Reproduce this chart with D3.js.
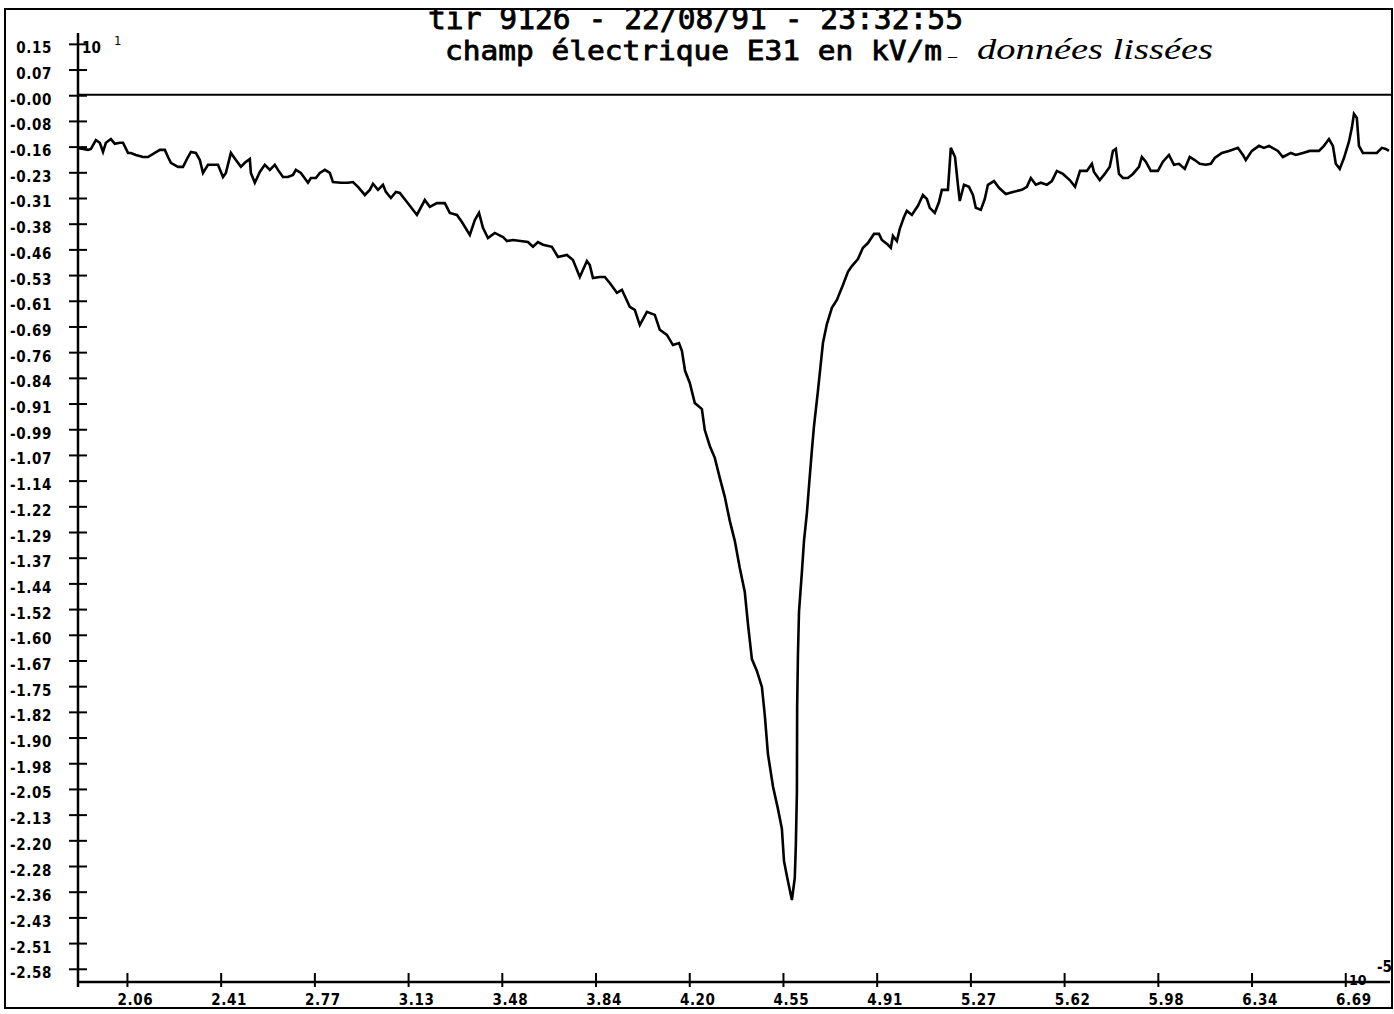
<!DOCTYPE html>
<html><head><meta charset="utf-8">
<script src="https://cdn.jsdelivr.net/npm/d3@7"></script>
<style>body{margin:0;background:#fff}svg{display:block}</style>
</head><body><svg id="chart" width="1394" height="1014"></svg>
<script>
const titleLine1 = "tir 9126 - 22/08/91 - 23:32:55";
const titleLine2 = "champ électrique E31 en kV/m";
const titleNoteDash = "_";
const titleNote = "données lissées";
const yExponent = ["10", "1"];
const xExponent = ["10", "-5"];

const yTickLabels = ["0.15","0.07","-0.00","-0.08","-0.16","-0.23","-0.31","-0.38","-0.46","-0.53",
  "-0.61","-0.69","-0.76","-0.84","-0.91","-0.99","-1.07","-1.14","-1.22","-1.29","-1.37","-1.44",
  "-1.52","-1.60","-1.67","-1.75","-1.82","-1.90","-1.98","-2.05","-2.13","-2.20","-2.28","-2.36",
  "-2.43","-2.51","-2.58"];
const xTickLabels = ["2.06","2.41","2.77","3.13","3.48","3.84","4.20","4.55","4.91","5.27","5.62","5.98","6.34","6.69"];

// time (x 1e-5 s), field (x 10 kV/m)
const traceEarly = [
 [1.874,-0.157],[1.912,-0.163],[1.923,-0.160],[1.942,-0.134],[1.957,-0.142],[1.969,-0.169],[1.980,-0.142],
 [1.999,-0.131],[2.014,-0.145],[2.033,-0.142],[2.045,-0.142],[2.064,-0.172],[2.075,-0.172],[2.094,-0.178],
 [2.121,-0.184],[2.140,-0.184],[2.166,-0.172],[2.185,-0.163],[2.204,-0.163],[2.216,-0.184],[2.227,-0.201],
 [2.254,-0.213],[2.273,-0.213],[2.292,-0.184],[2.303,-0.169],[2.322,-0.172],[2.337,-0.193],[2.349,-0.231],
 [2.368,-0.207],[2.394,-0.207],[2.406,-0.207],[2.425,-0.243],[2.436,-0.231],[2.455,-0.172],[2.474,-0.193],
 [2.493,-0.213],[2.508,-0.201],[2.527,-0.190],[2.531,-0.231],[2.546,-0.260],[2.565,-0.228],[2.584,-0.207],
 [2.603,-0.222],[2.622,-0.207],[2.634,-0.222],[2.653,-0.243],[2.672,-0.243],[2.691,-0.237],[2.702,-0.222],
 [2.721,-0.231],[2.748,-0.260],[2.759,-0.246],[2.778,-0.246],[2.793,-0.231],[2.812,-0.222],[2.831,-0.231],
 [2.843,-0.258],[2.873,-0.260],[2.900,-0.260],[2.919,-0.258],[2.938,-0.272],[2.964,-0.296],[2.983,-0.281],
 [2.995,-0.263],[3.014,-0.281],[3.033,-0.266],[3.044,-0.287],[3.063,-0.305],[3.082,-0.287],[3.097,-0.290]
];
const traceDescent = [
 [3.124,-0.317],[3.162,-0.355],[3.192,-0.311],[3.211,-0.331],[3.238,-0.320],[3.268,-0.320],[3.287,-0.349],
 [3.314,-0.355],[3.333,-0.376],[3.363,-0.414],[3.382,-0.370],[3.398,-0.349],[3.413,-0.393],[3.432,-0.423],
 [3.458,-0.408],[3.489,-0.420],[3.504,-0.432],[3.527,-0.429],[3.584,-0.435],[3.603,-0.449],[3.622,-0.435],
 [3.641,-0.443],[3.675,-0.449],[3.698,-0.479],[3.732,-0.473],[3.755,-0.488],[3.781,-0.538],[3.808,-0.491],
 [3.819,-0.503],[3.831,-0.541],[3.857,-0.538],[3.876,-0.538],[3.895,-0.556],[3.922,-0.585],[3.941,-0.576],
 [3.971,-0.626],[3.990,-0.635],[4.009,-0.680],[4.036,-0.641],[4.066,-0.650],[4.085,-0.694],[4.112,-0.709],
 [4.135,-0.739],[4.158,-0.733]
];
const tracePulse = [
 [4.169,-0.756],[4.181,-0.815],[4.199,-0.851],[4.218,-0.910],[4.245,-0.928],[4.256,-0.990],[4.275,-1.037],
 [4.294,-1.072],[4.313,-1.131],[4.332,-1.187],[4.351,-1.258],[4.370,-1.317],[4.389,-1.397],[4.408,-1.468],
 [4.420,-1.562],[4.435,-1.666],[4.454,-1.701],[4.473,-1.748],[4.484,-1.831],[4.496,-1.946],[4.515,-2.041],
 [4.534,-2.108],[4.549,-2.167],[4.557,-2.262],[4.568,-2.306],[4.587,-2.377],[4.598,-2.312],[4.602,-2.215],
 [4.606,-2.061],[4.607,-1.807],[4.610,-1.654],[4.614,-1.527],[4.625,-1.409],[4.633,-1.317],[4.644,-1.235],
 [4.652,-1.155],[4.663,-1.049],[4.671,-0.978],[4.686,-0.874],[4.705,-0.733],[4.720,-0.677],[4.739,-0.629],
 [4.758,-0.606],[4.781,-0.562],[4.800,-0.523]
];
const traceRecovery = [
 [4.815,-0.506],[4.838,-0.485],[4.857,-0.452],[4.876,-0.438],[4.899,-0.411],[4.918,-0.411],[4.929,-0.429],
 [4.952,-0.443],[4.963,-0.452],[4.971,-0.417],[4.986,-0.432],[4.997,-0.396],[5.013,-0.361],[5.024,-0.343],
 [5.043,-0.355],[5.066,-0.328],[5.085,-0.296],[5.100,-0.308],[5.111,-0.334],[5.130,-0.349],[5.146,-0.317],
 [5.157,-0.281],[5.180,-0.281],[5.191,-0.157],[5.207,-0.184],[5.218,-0.266],[5.225,-0.314],[5.241,-0.266],
 [5.260,-0.272],[5.275,-0.296],[5.286,-0.334],[5.305,-0.340],[5.320,-0.308],[5.332,-0.266],[5.355,-0.255],
 [5.374,-0.275],[5.400,-0.293],[5.427,-0.287],[5.461,-0.281],[5.480,-0.272],[5.495,-0.246],[5.514,-0.266],
 [5.533,-0.260],[5.556,-0.266],[5.575,-0.255],[5.594,-0.225],[5.617,-0.234],[5.643,-0.252],[5.663,-0.272],
 [5.682,-0.225],[5.708,-0.225],[5.727,-0.204],[5.735,-0.228],[5.757,-0.252],[5.776,-0.234],[5.795,-0.213],
 [5.807,-0.166],[5.818,-0.160],[5.830,-0.234],[5.845,-0.246],[5.864,-0.246],[5.883,-0.234],[5.906,-0.213],
 [5.917,-0.184],[5.932,-0.198],[5.951,-0.225],[5.978,-0.225],[5.997,-0.198],[6.020,-0.178],[6.039,-0.207],
 [6.058,-0.204],[6.080,-0.219],[6.099,-0.184],[6.118,-0.193],[6.137,-0.204],[6.160,-0.207],[6.179,-0.204],
 [6.194,-0.187],[6.221,-0.172],[6.248,-0.166],[6.282,-0.157],[6.301,-0.178],[6.312,-0.193],[6.335,-0.166],
 [6.362,-0.151],[6.381,-0.157],[6.400,-0.151],[6.434,-0.166],[6.453,-0.184],[6.483,-0.172],[6.502,-0.178],
 [6.529,-0.172],[6.555,-0.166],[6.590,-0.166],[6.609,-0.151],[6.628,-0.131],[6.643,-0.151],[6.654,-0.204],
 [6.669,-0.219],[6.685,-0.187],[6.704,-0.139],[6.715,-0.098],[6.723,-0.057],[6.734,-0.069],[6.742,-0.151],
 [6.757,-0.172],[6.783,-0.172],[6.810,-0.172],[6.829,-0.157],[6.844,-0.160],[6.856,-0.166]
];

const svg = d3.select("#chart");
const ink = "#000";
const x = d3.scaleLinear().domain([1.874, 6.86]).range([78, 1390]);
const y = d3.scaleLinear().domain([-2.619, 0.182]).range([982, 33]);

// titles (drawn first so the frame cuts the top line as in the print)
svg.append("text").attr("x", 428).attr("y", 29).text(titleLine1)
  .attr("textLength", 535).attr("lengthAdjust", "spacingAndGlyphs")
  .style("font-family", "'DejaVu Sans Mono'").style("font-size", "30px")
  .attr("fill", ink).attr("stroke", ink).attr("stroke-width", 0.8);
svg.append("rect").attr("x", 0).attr("y", 0).attr("width", 1394).attr("height", 9).attr("fill", "#fff");
svg.append("text").attr("x", 445).attr("y", 60).text(titleLine2)
  .attr("textLength", 497).attr("lengthAdjust", "spacingAndGlyphs")
  .style("font-family", "'DejaVu Sans Mono'").style("font-size", "26px")
  .attr("fill", ink).attr("stroke", ink).attr("stroke-width", 0.8);
svg.append("text").attr("x", 948).attr("y", 56).text(titleNoteDash)
  .style("font-family", "'Liberation Serif'").style("font-style", "italic").style("font-size", "18px");
svg.append("text").attr("x", 977).attr("y", 59).text(titleNote)
  .attr("textLength", 236).attr("lengthAdjust", "spacingAndGlyphs")
  .style("font-family", "'Liberation Serif'").style("font-style", "italic").style("font-size", "30px").attr("fill", ink);

// frame
svg.append("rect").attr("x", 5).attr("y", 9).attr("width", 1387).attr("height", 999)
  .attr("fill", "none").attr("stroke", ink).attr("stroke-width", 2);

// tick values spread evenly across the labelled extent
const yTicks = yTickLabels.map((d, i) => 0.15 - i * (2.73 / (yTickLabels.length - 1)));
const xTicks = xTickLabels.map((d, i) => 2.06 + i * (4.63 / (xTickLabels.length - 1)));

const labelFont = "'DejaVu Sans Condensed','DejaVu Sans'";
const yAxis = d3.axisLeft(y).tickValues(yTicks).tickSize(0).tickFormat((d, i) => yTickLabels[i]);
const gy = svg.append("g").attr("transform", "translate(78,0)").call(yAxis);
gy.select(".domain").remove();
gy.selectAll(".tick text").attr("x", -26).attr("dy", null)
  .attr("y", 9).attr("text-anchor", "end")
  .style("font-family", labelFont).style("font-weight", "bold")
  .style("font-size", "15px").style("letter-spacing", "0.6px").attr("fill", ink);
gy.selectAll(".tick").append("line").attr("x1", -9).attr("x2", 9).attr("stroke", ink).attr("stroke-width", 2);

const xAxis = d3.axisBottom(x).tickValues(xTicks).tickSize(0).tickFormat((d, i) => xTickLabels[i]);
const gx = svg.append("g").attr("transform", "translate(0,982)").call(xAxis);
gx.select(".domain").remove();
gx.selectAll(".tick text").attr("x", 8).attr("y", 23).attr("dy", null)
  .style("font-family", labelFont).style("font-weight", "bold")
  .style("font-size", "15px").style("letter-spacing", "0.6px").attr("fill", ink);
gx.selectAll(".tick").append("line").attr("y1", -9).attr("y2", 5).attr("stroke", ink).attr("stroke-width", 2);

// axis lines
svg.append("line").attr("x1", 78).attr("x2", 78).attr("y1", 33).attr("y2", 987)
  .attr("stroke", ink).attr("stroke-width", 2.5);
svg.append("line").attr("x1", 78).attr("x2", 1390).attr("y1", 982).attr("y2", 982)
  .attr("stroke", ink).attr("stroke-width", 2.5);
// zero line
svg.append("line").attr("x1", 78).attr("x2", 1392).attr("y1", y(0)).attr("y2", y(0))
  .attr("stroke", ink).attr("stroke-width", 2);

// trace
const trace = traceEarly.concat(traceDescent, tracePulse, traceRecovery);
const line = d3.line().x(d => x(d[0])).y(d => y(d[1])).curve(d3.curveLinear);
svg.append("path").datum(trace).attr("d", line).attr("fill", "none")
  .attr("stroke", ink).attr("stroke-width", 2.6).attr("stroke-linejoin", "miter");

// exponent markers
svg.append("text").attr("x", 82).attr("y", 53).text(yExponent[0])
  .style("font-family", labelFont).style("font-weight", "bold").style("font-size", "15px");
svg.append("text").attr("x", 114).attr("y", 45).text(yExponent[1])
  .style("font-family", labelFont).style("font-size", "13px");
svg.append("text").attr("x", 1349).attr("y", 985).text(xExponent[0])
  .style("font-family", labelFont).style("font-weight", "bold").style("font-size", "14px");
svg.append("text").attr("x", 1377).attr("y", 972).text(xExponent[1])
  .style("font-family", labelFont).style("font-weight", "bold").style("font-size", "15px");
</script></body></html>
